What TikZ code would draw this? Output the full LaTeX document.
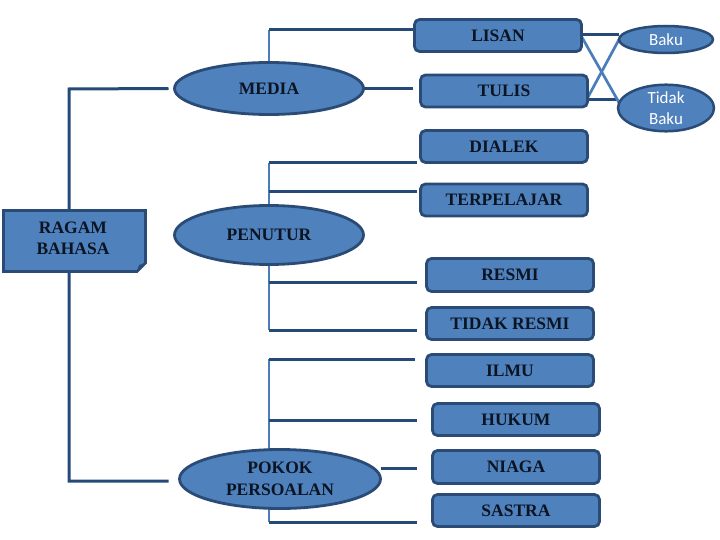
\documentclass[tikz,border=0pt]{standalone}
\usepackage{fontspec}
\setmainfont{Liberation Serif}
\newfontfamily\calfont{Carlito}
\usetikzlibrary{shapes.geometric}
\definecolor{boxfill}{HTML}{4F81BD}
\definecolor{boxline}{HTML}{2A4B75}
\definecolor{darkline}{HTML}{254A78}
\definecolor{lightline}{HTML}{4A7EBB}
\definecolor{txt}{HTML}{0B1422}
\pgfdeclarelayer{bg}
\pgfsetlayers{bg,main}
\tikzset{
  rbox/.style={draw=boxline, line width=2.8pt, fill=boxfill, rounded corners=5pt,
    minimum width=167pt, minimum height=32pt, inner sep=0pt, outer sep=0pt,
    font=\bfseries\fontsize{17.5}{20}\selectfont, text=txt},
  ell/.style={ellipse, draw=boxline, line width=2.8pt, fill=boxfill, inner sep=0pt, outer sep=0pt,
    font=\bfseries\fontsize{17.5}{22}\selectfont, text=txt, align=center},
  sell/.style={ellipse, draw=boxline, line width=2.5pt, fill=boxfill, inner sep=0pt, outer sep=0pt,
    font=\calfont\fontsize{17}{21}\selectfont, text=white, align=center},
  hline/.style={draw=darkline, line width=3pt},
  vline/.style={draw=lightline, line width=2.7pt},
  xline/.style={draw=lightline, line width=2.7pt},
}
\begin{document}
\begin{tikzpicture}[x=1pt,y=-1pt]
\useasboundingbox (0,0) rectangle (720,540);
% rectangular boxes
\node[rbox] (LISAN) at (498,35.5) {LISAN};
\node[rbox] (TULIS) at (504,91) {TULIS};
\node[rbox] (DIALEK) at (504,146.5) {DIALEK};
\node[rbox] (TERP) at (504,200) {TERPELAJAR};
\node[rbox, minimum height=33pt] (RESMI) at (510,275) {RESMI};
\node[rbox] (TRESMI) at (510,323.5) {TIDAK RESMI};
\node[rbox] (ILMU) at (510,370.5) {ILMU};
\node[rbox] (HUKUM) at (516,419.5) {HUKUM};
\node[rbox, minimum height=33pt] (NIAGA) at (516,467) {NIAGA};
\node[rbox] (SASTRA) at (516,510.5) {SASTRA};
% ellipses
\node[ell, minimum width=189pt, minimum height=52pt] (MEDIA) at (269,88.5) {MEDIA};
\node[ell, minimum width=189pt, minimum height=59pt] (PENUTUR) at (269,235) {PENUTUR};
\node[ell, minimum width=201pt, minimum height=59pt] (POKOK) at (280,479) {POKOK\\PERSOALAN};
\node[sell, minimum width=94pt, minimum height=27pt] (BAKU) at (666,39.5) {Baku};
\node[sell, minimum width=96pt, minimum height=45pt] (TBAKU) at (666,108) {Tidak\\Baku};
% root box with folded corner
\fill[boxfill, draw=boxline, line width=2.8pt, line join=miter]
  (3.5,210.5) -- (145.5,210.5) -- (145.5,263) -- (137,271.5) -- (3.5,271.5) -- cycle;
\fill[boxline] (145.5,263) -- (137,271.5) -- (139,265) -- cycle;
\node[font=\bfseries\fontsize{17.5}{21}\selectfont, text=txt, align=center, inner sep=0pt] (RB) at (73,238) {RAGAM\\BAHASA};
% connectors
\begin{pgfonlayer}{bg}
\coordinate (m1) at (269,30);
\coordinate (d1) at (269,163);
\coordinate (t1) at (269,192);
\coordinate (r1) at (269,282);
\coordinate (r2) at (269,330);
\coordinate (i1) at (269,359);
\coordinate (h1) at (269,420);
\coordinate (s1) at (269,522);
\coordinate (n1) at (417,468);
\coordinate (tr1) at (69,89);
\coordinate (tr2) at (69,481);
% trunk
\draw[hline] ([xshift=-6pt]MEDIA.west) -- (tr1) -- (tr2) -- ([xshift=-11pt]POKOK.west |- tr2);
% media branch
\draw[vline] (MEDIA.north) -- (m1);
\draw[hline] (m1) -- (LISAN.west |- m1);
\draw[hline] (MEDIA.east) -- ([xshift=-8pt]TULIS.west |- MEDIA.east);
% penutur branch
\draw[vline] (d1) -- (PENUTUR.north);
\draw[hline] (d1) -- ([xshift=-4pt]DIALEK.west |- d1);
\draw[hline] (t1) -- ([xshift=-4pt]TERP.west |- t1);
\draw[vline] (PENUTUR.south) -- (r2);
\draw[hline] (r1) -- ([xshift=-10pt]RESMI.west |- r1);
\draw[hline] (r2) -- ([xshift=-10pt]TRESMI.west |- r2);
% pokok branch
\draw[vline] (i1) -- (POKOK.north -| i1);
\draw[hline] (i1) -- ([xshift=-12pt]ILMU.west |- i1);
\draw[hline] (h1) -- ([xshift=-16pt]HUKUM.west |- h1);
\draw[vline] (POKOK.south -| s1) -- (s1);
\draw[hline] (s1) -- ([xshift=-16pt]SASTRA.west |- s1);
\draw[hline] (POKOK.east |- n1) -- (n1);
% baku links
\draw[hline] ([yshift=1pt]LISAN.east) -- ([yshift=1pt]LISAN.east -| BAKU.west);
\draw[hline] ([yshift=-9pt]TULIS.east) -- ([yshift=-9pt]TULIS.east -| TBAKU.west);
\draw[xline] ([yshift=-1pt]LISAN.east) -- ([xshift=3pt,yshift=2pt]TBAKU.west);
\draw[xline] ([yshift=-7pt]TULIS.east) -- (BAKU.west);
\end{pgfonlayer}
\end{tikzpicture}
\end{document}
